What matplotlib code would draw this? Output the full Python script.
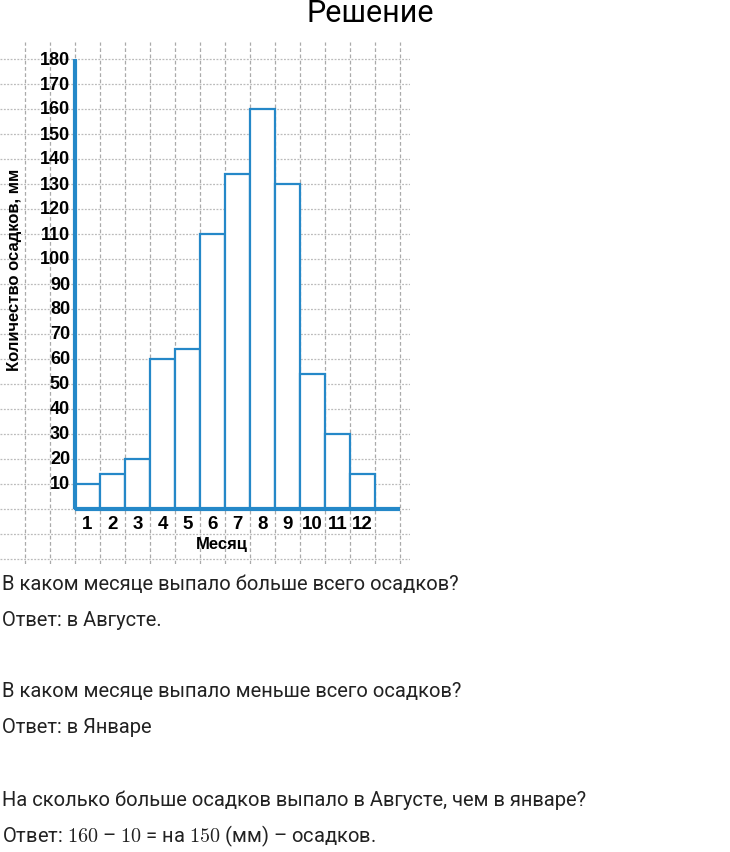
import numpy as np
import matplotlib.pyplot as plt

months = [1, 2, 3, 4, 5, 6, 7, 8, 9, 10, 11, 12]
rain = [10, 14, 20, 60, 64, 110, 134, 160, 130, 54, 30, 14]
yticks = list(range(10, 190, 10))

blue = '#2588c8'
plt.rcParams['mathtext.fontset'] = 'cm'

fig = plt.figure(figsize=(7.3, 8.53), dpi=100)
W, H = 730, 853
# axes covers the grid area, 25 px per month and per 10 mm
ax = fig.add_axes([0 / W, 1 - 565 / H, 410 / W, (565 - 43) / H])
ax.set_xlim(-2.5, 13.9)
ax.set_ylim(-22, 186.8)
ax.axis('off')

# grid
for gx in np.arange(-1.5, 13.6, 1):
    ax.axvline(gx, color='#aaaaaa', lw=0.9, ls=(0, (3, 2)), zorder=0)
for gy in range(-20, 181, 10):
    ax.axhline(gy, color='#bbbbbb', lw=0.9, ls=(0, (1.5, 1.2)), zorder=0)

ax.bar(months, rain, width=1.0, facecolor='white', edgecolor=blue, linewidth=1.6, zorder=2)

# axes lines
ax.plot([0.5, 0.5], [0, 180], color=blue, lw=3, zorder=3, solid_capstyle='butt')
ax.plot([0.5, 13.5], [0, 0], color=blue, lw=3, zorder=3, solid_capstyle='butt')

for t in yticks:
    ax.text(0.3, t, str(t), ha='right', va='center', fontsize=13, fontweight='bold',
            family='Liberation Sans', zorder=4)
for m in months:
    ax.text(m, -6, str(m), ha='center', va='center', fontsize=13.5, fontweight='bold',
            family='Liberation Sans', zorder=4)
ax.text(6.38, -14, 'Месяц', ha='center', va='center', fontsize=12, fontweight='bold',
        family='Liberation Sans')
ax.text(-1.9, 96, 'Количество осадков, мм', rotation=90, ha='center', va='center',
        fontsize=12, fontweight='bold', family='Liberation Sans')

fig.text(370 / W, 1 - 14 / H, 'Решение', ha='center', va='center', fontsize=22, family='Roboto')

lines = [
    (585, 'В каком месяце выпало больше всего осадков?'),
    (621, 'Ответ: в Августе.'),
    (692, 'В каком месяце выпало меньше всего осадков?'),
    (728, 'Ответ: в Январе'),
    (800, 'На сколько больше осадков выпало в Августе, чем в январе?'),
    (836, 'Ответ: $160$ – $10$ = на $150$ (мм) – осадков.'),
]
for y, s in lines:
    fig.text(2 / W, 1 - y / H, s, ha='left', va='center', fontsize=14.5, family='Roboto', color='#222222')

fig.savefig('out.png', dpi=100)
